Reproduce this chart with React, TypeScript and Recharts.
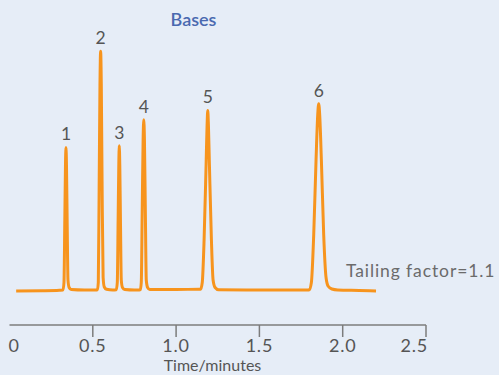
import { ComposedChart, Line, Scatter, XAxis, YAxis, LabelList } from 'recharts';

// chromatogram trace: [time (min), detector signal]
const trace: [number, number][] = [
  [0.04, -0.4], [0.2, -0.3], [0.3, -0.1],
  // peak 1
  [0.321, 0], [0.327, 3], [0.332, 28], [0.336, 50], [0.339, 57], [0.342, 50], [0.346, 28], [0.351, 4], [0.358, 1], [0.37, 0.2],
  [0.45, 0], [0.52, 0],
  // peak 2
  [0.527, 0.2], [0.533, 3], [0.538, 40], [0.543, 82], [0.547, 95.5], [0.551, 82], [0.556, 40], [0.562, 5], [0.569, 1.2], [0.582, 0.3],
  [0.62, 0],
  // peak 3
  [0.641, 0.1], [0.647, 3], [0.652, 28], [0.656, 50], [0.659, 57.7], [0.662, 50], [0.666, 28], [0.671, 4], [0.678, 1], [0.692, 0.2],
  [0.75, 0], [0.78, 0],
  // peak 4
  [0.785, 0.1], [0.791, 3], [0.797, 34], [0.802, 60], [0.806, 68.1], [0.81, 60], [0.815, 34], [0.821, 4], [0.829, 1], [0.842, 0.2],
  [1.0, 0.2], [1.14, 0.3],
  // peak 5
  [1.147, 0.3], [1.157, 3], [1.168, 20], [1.18, 50], [1.186, 66], [1.19, 71.8], [1.194, 66], [1.2, 50], [1.212, 20], [1.222, 4], [1.234, 1], [1.255, 0.1],
  [1.5, 0], [1.79, 0],
  // peak 6
  [1.799, 0.1], [1.812, 3], [1.826, 22], [1.84, 52], [1.85, 70], [1.856, 74.5], [1.862, 70], [1.872, 52], [1.886, 22], [1.9, 5], [1.913, 1.5], [1.935, 0.4],
  [1.97, 0], [2.1, -0.2], [2.2, -0.4],
];

const peakNames = ['1', '2', '3', '4', '5', '6'];
const peakTimes = [0.339, 0.547, 0.659, 0.806, 1.19, 1.856];
const timeTicks = [0, 0.5, 1, 1.5, 2, 2.5];

const traceData = trace.map(([t, v]) => ({ t, v }));
const peakData = peakNames.map((name, i) => {
  const apex = trace.find(([t]) => t === peakTimes[i]);
  return { name, t: peakTimes[i], v: apex ? apex[1] : 0 };
});

const FONT = 'Lato, "Open Sans", sans-serif';
const AXIS = '#7c7c7c';

// first label sits right of the origin, last one ends on its tick
const TimeTick = ({ x, y, payload }: any) => {
  const value = payload.value as number;
  const first = value === timeTicks[0];
  const last = value === timeTicks[timeTicks.length - 1];
  return (
    <g>
      {!first && <line x1={x} x2={x} y1={y} y2={y + 12} stroke={AXIS} strokeWidth={1.5} />}
      <text
        x={first ? x - 1 : last ? x + 2 : x}
        y={y + 27}
        textAnchor={first ? 'start' : last ? 'end' : 'middle'}
        fill="#555"
        fontSize={18}
        letterSpacing={0.8}
        fontFamily={FONT}
      >
        {value === 0 ? '0' : value.toFixed(1)}
      </text>
    </g>
  );
};

export default function App() {
  return (
    <div style={{ position: 'absolute', left: 0, top: 0, width: 499, height: 375, background: '#e6edf7', fontFamily: FONT }}>
      <ComposedChart width={499} height={375} margin={{ top: 40, right: 73, bottom: 20, left: 9.5 }}>
        <XAxis
          type="number"
          dataKey="t"
          domain={[0, 2.5]}
          ticks={timeTicks}
          interval={0}
          height={30}
          tickLine={false}
          tickSize={0}
          tickMargin={0}
          axisLine={{ stroke: AXIS, strokeWidth: 1.5 }}
          tick={<TimeTick />}
        />
        <YAxis type="number" dataKey="v" domain={[-14, 100]} hide allowDataOverflow />
        <Line
          data={traceData}
          dataKey="v"
          type="monotone"
          stroke="#f7941d"
          strokeWidth={3}
          dot={false}
          activeDot={false}
          isAnimationActive={false}
        />
        <Scatter data={peakData} dataKey="v" shape={() => <g />} isAnimationActive={false}>
          <LabelList dataKey="name" position="top" offset={2.5} fill="#555" fontSize={17.5} fontFamily={FONT} />
        </Scatter>
      </ComposedChart>
      <svg width={499} height={375} style={{ position: 'absolute', left: 0, top: 0, pointerEvents: 'none' }}>
        <text x={193.5} y={26} textAnchor="middle" fill="#4a69b0" fontSize={18} fontWeight={600} fontFamily={FONT}>
          Bases
        </text>
        <text x={346} y={277} fill="#6b6b6b" fontSize={17.5} letterSpacing={0.9} fontFamily={FONT}>
          Tailing factor=1.1
        </text>
        <text x={212.5} y={371} textAnchor="middle" fill="#555" fontSize={16} fontFamily={FONT}>
          Time/minutes
        </text>
      </svg>
    </div>
  );
}
